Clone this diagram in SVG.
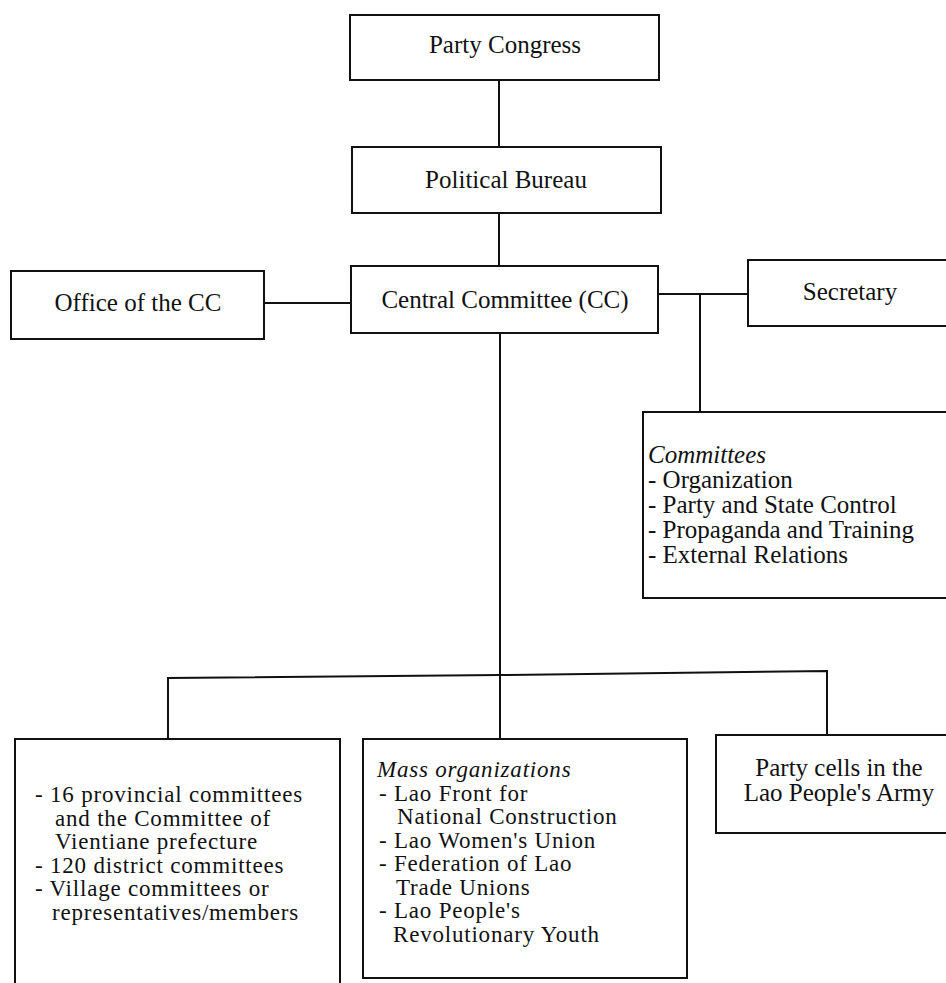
<svg xmlns="http://www.w3.org/2000/svg" width="946" height="983" viewBox="0 0 946 983">
<style>
.box{fill:#fff;stroke:#111;stroke-width:2}
.ln{fill:none;stroke:#111;stroke-width:2}
text{font-family:"Liberation Serif","Times New Roman",serif;font-size:25px;fill:#111}
.c{text-anchor:middle}
.i{font-style:italic}
.s{font-size:23px;letter-spacing:0.8px}
</style>
<rect width="946" height="983" fill="#fff"/>
<g id="connectors">
<line class="ln" x1="499" y1="80" x2="499" y2="147"/>
<line class="ln" x1="499" y1="213" x2="499" y2="266"/>
<line class="ln" x1="264" y1="303" x2="351" y2="303"/>
<line class="ln" x1="658" y1="294" x2="748" y2="294"/>
<line class="ln" x1="700" y1="294" x2="700" y2="412"/>
<line class="ln" x1="500" y1="333" x2="500" y2="739"/>
<polyline class="ln" points="168,739 168,678 500,675 827,671 827,735"/>
</g>
<g id="party-congress">
<rect class="box" x="350" y="15" width="309" height="65"/>
<text class="c" x="505" y="53">Party Congress</text>
</g>
<g id="political-bureau">
<rect class="box" x="352" y="147" width="309" height="66"/>
<text class="c" x="506" y="188">Political Bureau</text>
</g>
<g id="office-cc">
<rect class="box" x="11" y="271" width="253" height="68"/>
<text class="c" x="138" y="311">Office of the CC</text>
</g>
<g id="central-committee">
<rect class="box" x="351" y="266" width="307" height="67"/>
<text class="c" x="505" y="308">Central Committee (CC)</text>
</g>
<g id="secretary">
<rect class="box" x="748" y="260" width="210" height="66"/>
<text class="c" x="850" y="300">Secretary</text>
</g>
<g id="committees">
<rect class="box" x="643" y="412" width="315" height="186"/>
<text x="648" y="463" class="i">Committees</text>
<text x="648" y="488">- Organization</text>
<text x="648" y="513">- Party and State Control</text>
<text x="648" y="538">- Propaganda and Training</text>
<text x="648" y="563">- External Relations</text>
</g>
<g id="local-committees">
<rect class="box" x="15" y="739" width="325" height="260"/>
<text class="s" x="35" y="802">- 16 provincial committees</text>
<text class="s" x="55" y="826">and the Committee of</text>
<text class="s" x="55" y="849">Vientiane prefecture</text>
<text class="s" x="35" y="873">- 120 district committees</text>
<text class="s" x="35" y="896">- Village committees or</text>
<text class="s" x="52" y="920">representatives/members</text>
</g>
<g id="mass-organizations">
<rect class="box" x="363" y="739" width="324" height="239"/>
<text class="s i" x="377" y="777">Mass organizations</text>
<text class="s" x="379" y="801">- Lao Front for</text>
<text class="s" x="397" y="824">National Construction</text>
<text class="s" x="379" y="848">- Lao Women's Union</text>
<text class="s" x="379" y="871">- Federation of Lao</text>
<text class="s" x="396" y="895">Trade Unions</text>
<text class="s" x="379" y="918">- Lao People's</text>
<text class="s" x="393" y="942">Revolutionary Youth</text>
</g>
<g id="party-cells">
<rect class="box" x="716" y="735" width="242" height="98"/>
<text class="c" x="839" y="776">Party cells in the</text>
<text class="c" x="839" y="801">Lao People's Army</text>
</g>
</svg>
